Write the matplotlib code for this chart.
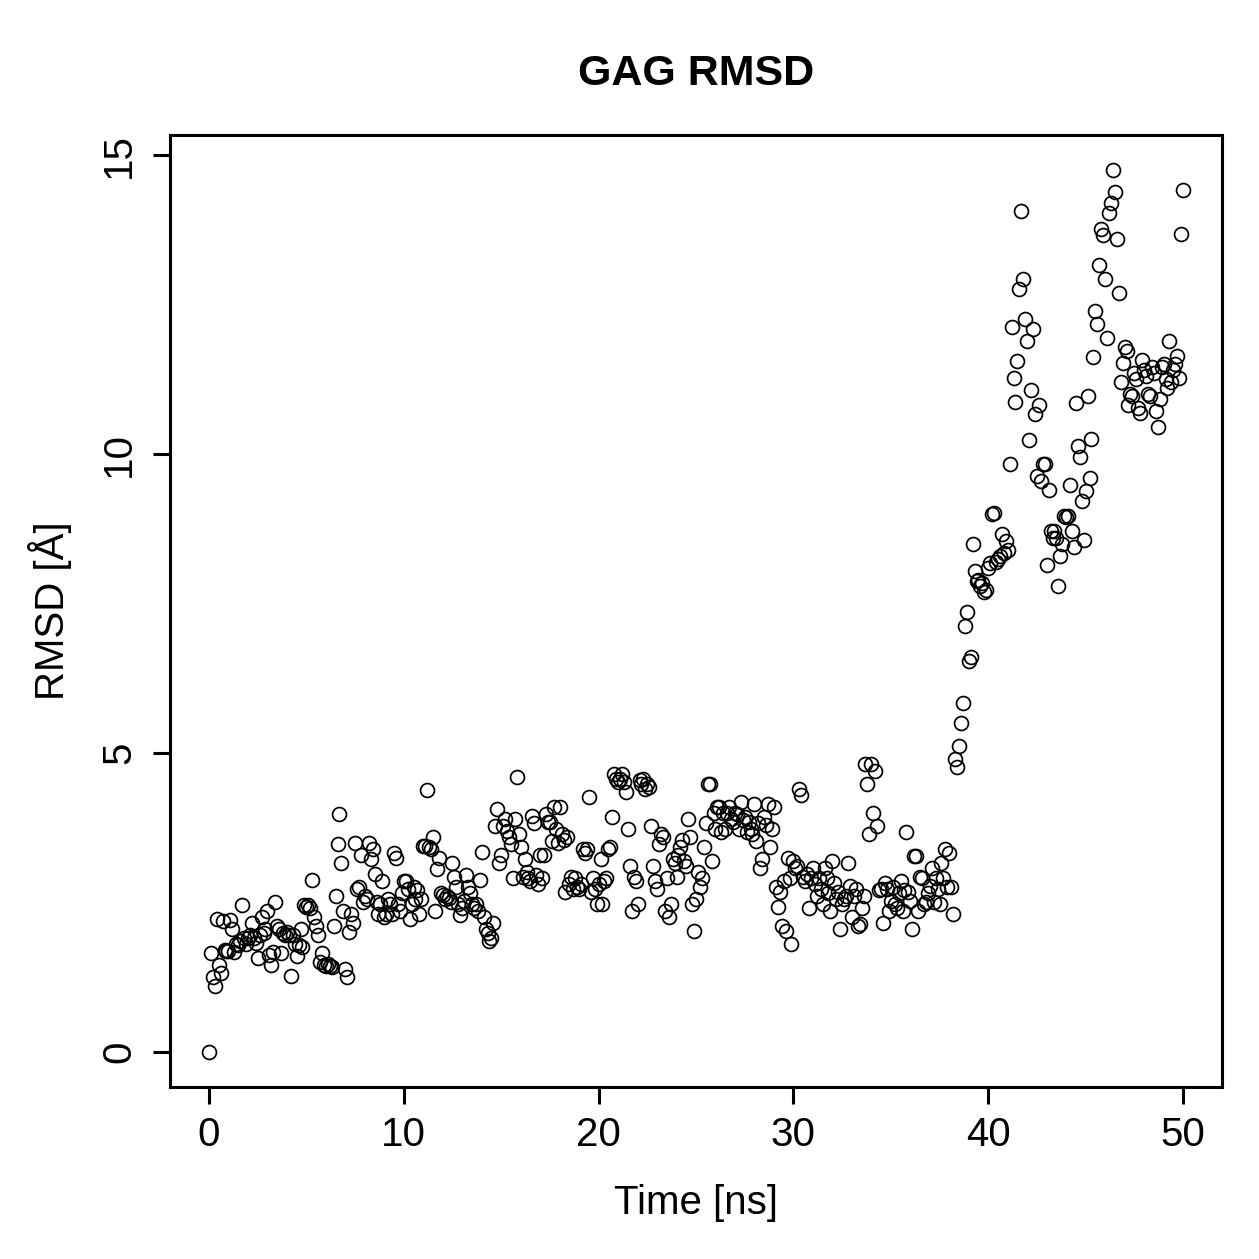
import numpy as np
import matplotlib
matplotlib.use('Agg')
import matplotlib.pyplot as plt

plt.rcParams['font.family'] = ['Liberation Sans', 'DejaVu Sans']

# RMSD values, one row per ns (0.1 ns steps)
rmsd_00_10 = [
    0.0, 1.65, 1.25, 1.1, 2.22, 1.45, 1.32, 2.18, 1.7, 1.68,
    1.68, 2.2, 2.05, 1.67, 1.8, 1.78, 1.85, 2.45, 1.9, 1.8,
    1.9, 1.96, 2.15, 1.9, 1.82, 1.57, 1.95, 2.25, 1.98, 2.05,
    2.35, 1.62, 1.45, 1.67, 2.5, 2.1, 2.05, 1.65, 1.98, 1.95, 2.0,
    1.95, 1.27, 1.95, 1.8, 1.6, 1.78, 2.05, 1.75, 2.45, 2.42,
    2.45, 2.4, 2.87, 2.25, 2.1, 1.95, 1.5, 1.65, 1.45, 1.43,
    1.47, 1.44, 1.42, 2.1, 2.6, 3.48, 3.98, 3.15, 2.35, 1.38,
    1.25, 2.0, 2.3, 2.15, 3.5, 2.72, 2.75, 3.3, 2.5, 2.6, 2.55,
    3.5, 3.22, 3.4, 2.98, 2.5, 2.3, 2.48, 2.86, 2.25, 2.3,
    2.55, 2.48, 2.3, 3.32, 3.25, 2.48, 2.35, 2.65, 2.86, 2.85,
]
rmsd_10_20 = [
    2.72, 2.22, 2.48, 2.75, 2.55, 2.7, 2.3, 2.55, 3.45, 3.45,
    4.38, 3.42, 3.4, 3.6, 2.36, 3.05, 3.25, 2.65, 2.62, 2.55, 2.6,
    2.58, 2.5, 3.15, 2.93, 2.75, 2.47, 2.28, 2.4, 2.52, 2.95,
    2.75, 2.65, 2.48, 2.4, 2.48, 2.35, 2.87, 3.35, 2.25, 2.05,
    1.98, 1.86, 1.9, 2.15, 3.77, 4.07, 3.15, 3.3, 3.78, 3.9,
    3.7, 3.6, 3.48, 2.9, 3.9, 4.6, 3.65, 3.43, 2.92, 3.22, 3.0,
    2.9, 2.86, 3.95, 3.82, 2.96, 2.8, 3.3, 2.9, 3.3, 3.98,
    3.85, 3.85, 3.52, 4.1, 3.72, 3.5, 4.1, 3.65, 3.55, 2.68,
    3.6, 2.8, 2.93, 2.72, 2.9, 2.76, 2.73, 2.8, 3.4, 3.32,
    3.4, 4.27, 2.68, 2.9, 2.73, 2.48, 2.8, 3.23, 2.47, 2.86, 2.9,
]
rmsd_20_30 = [
    3.4, 3.43, 3.93, 4.65, 4.57, 4.52, 4.57, 4.65, 4.52, 4.35,
    3.73, 3.1, 2.36, 2.93, 2.85, 2.48, 4.54, 4.48, 4.57, 4.4,
    4.48, 4.43, 3.77, 3.1, 2.86, 2.72, 3.48, 3.65, 3.6, 2.35,
    2.9, 2.26, 2.48, 3.23, 3.15, 2.93, 3.3, 3.43, 3.55, 3.2, 3.1,
    3.9, 3.6, 2.48, 2.02, 2.55, 3.0, 2.76, 2.9, 3.43, 3.82,
    4.48, 4.48, 3.2, 4.0, 3.72, 4.1, 4.1, 3.68, 4.0, 3.72,
    4.0, 4.1, 3.9, 3.85, 4.0, 3.98, 3.72, 4.18, 3.87, 3.93,
    3.68, 3.85, 3.72, 3.65, 4.15, 3.52, 3.82, 3.07, 3.23, 3.93, 3.8,
    4.15, 3.43, 3.73, 4.1, 2.76, 2.43, 2.68, 2.1, 2.86, 2.02,
    3.25, 2.9, 1.8, 3.2, 3.07, 3.1, 4.4, 4.3, 2.93, 2.86,
]
rmsd_30_40 = [
    2.98, 2.4, 2.9, 3.07, 2.8, 2.6, 2.9, 2.73, 2.47, 3.07,
    2.9, 2.65, 2.36, 3.2, 2.82, 2.56, 2.68, 2.06, 2.47, 2.56, 2.6,
    3.15, 2.78, 2.25, 2.6, 2.73, 2.1, 2.14, 2.4, 2.6, 4.82,
    4.48, 3.65, 4.82, 4.0, 4.7, 3.77, 2.7, 2.73, 2.15, 2.82,
    2.73, 2.36, 2.53, 2.76, 2.48, 2.4, 2.65, 2.85, 2.36, 2.7,
    3.68, 2.68, 2.53, 2.06, 3.27, 3.28, 2.35, 2.93, 2.9, 2.48, 2.5,
    2.65, 2.78, 3.07, 2.5, 2.9, 2.73, 2.48, 3.15, 2.9, 3.4,
    2.75, 3.32, 2.76, 2.3, 4.9, 4.77, 5.12, 5.5, 5.83, 7.13,
    7.35, 6.53, 6.6, 8.5, 8.05, 7.88, 7.9, 7.8, 7.85, 7.7, 7.72,
]
rmsd_40_50 = [
    8.1, 8.17, 9.0, 9.02, 8.2, 8.25, 8.29, 8.66, 8.35, 8.54,
    8.4, 9.84, 12.12, 11.27, 10.87, 11.55, 12.76, 14.06, 12.93, 12.26,
    11.9, 10.23, 11.07, 12.1, 10.67, 9.63, 10.82, 9.55, 9.83, 9.83,
    8.14, 9.4, 8.72, 8.59, 8.72, 8.59, 7.8, 8.3, 8.49, 8.97,
    8.95, 8.97, 9.48, 8.72, 8.45, 10.85, 10.13, 9.96, 9.22, 8.56,
    9.38, 10.98, 9.6, 10.26, 11.63, 12.39, 12.17, 13.16, 13.77, 13.67,
    12.93, 11.94, 14.03, 14.2, 14.75, 14.38, 13.6, 12.7, 11.2, 11.52,
    11.8, 11.72, 10.82, 11.0, 10.97, 11.35, 11.25, 10.78, 10.68, 11.57,
    11.4, 11.3, 11.0, 10.98, 11.45, 11.35, 10.73, 10.46, 10.93, 11.45,
    11.5, 11.25, 11.1, 11.89, 11.2, 11.4, 11.5, 11.65, 11.27, 13.68,
    14.42,
]

rmsd = np.array(rmsd_00_10 + rmsd_10_20 + rmsd_20_30 + rmsd_30_40 + rmsd_40_50)
time = np.round(np.arange(len(rmsd)) * 0.1, 1)

x_ticks = [0, 10, 20, 30, 40, 50]
y_ticks = [0, 5, 10, 15]

W = 1259
fig = plt.figure(figsize=(W / 100, W / 100), dpi=100)
ax = fig.add_axes([170 / W, 1 - 1087 / W, (1222 - 170) / W, (1087 - 135) / W])

ax.plot(time, rmsd, linestyle='none', marker='o', markersize=10,
        markerfacecolor='none', markeredgecolor='black', markeredgewidth=1.25)

ax.set_xlim(-2, 52)
ax.set_ylim(-0.59, 15.34)
ax.set_xticks(x_ticks)
ax.set_yticks(y_ticks)

for s in ax.spines.values():
    s.set_linewidth(2.2)
ax.tick_params(axis='both', direction='out', length=12, width=2.2, labelsize=29)
ax.tick_params(axis='x', pad=9)
ax.tick_params(axis='y', pad=11, labelrotation=90)
for lab in ax.get_yticklabels():
    lab.set_verticalalignment('center')

fig.text(696 / W, 1 - 85 / W, 'GAG RMSD', ha='center', va='baseline',
         fontsize=31, fontweight='bold')
fig.text(696 / W, 1 - 1203 / W, 'Time [ns]', ha='center', va='center', fontsize=29)
fig.text(50 / W, 1 - 611 / W, 'RMSD [Å]', ha='center', va='center',
         rotation=90, fontsize=29)

fig.savefig('out.png', dpi=100)
